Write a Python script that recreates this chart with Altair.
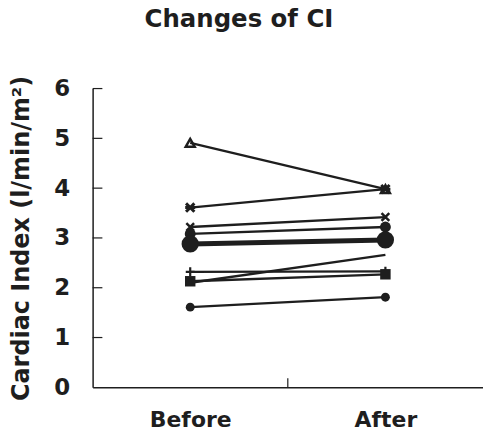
import altair as alt
import pandas as pd

# ---- data ----
patients = ["P1", "P2", "P3", "P4", "P5", "P6", "P7", "P8", "P9"]
ci_before = [4.91, 3.61, 3.22, 3.08, 2.88, 2.32, 2.13, 2.10, 1.61]
ci_after = [3.98, 3.98, 3.42, 3.22, 2.96, 2.33, 2.27, 2.66, 1.81]
phases = ["Before", "After"]
phase_pos = [1, 3]
y_ticks = [1, 2, 3, 4, 5, 6]
x_ticks = [2]

# ---- styles (per patient) ----
X_PATH = "M-1,-1L1,1M-1,1L1,-1"
PLUS_PATH = "M-1,0L1,0M0,-1L0,1"
AST_PATH = "M-1,-1L1,1M-1,1L1,-1M-1.2,0L1.2,0"
marker_style = {
    "P1": dict(shape="triangle-up", filled=False, size=80, sw=2.5),
    "P2": dict(shape=AST_PATH, filled=False, size=70, sw=3),
    "P3": dict(shape=X_PATH, filled=False, size=60, sw=2.5),
    "P4": dict(shape="circle", filled=True, size=120, sw=0),
    "P5": dict(shape="circle", filled=True, size=300, sw=0),
    "P6": dict(shape=PLUS_PATH, filled=False, size=80, sw=2.2),
    "P7": dict(shape="square", filled=True, size=110, sw=0),
    "P8": None,
    "P9": dict(shape="circle", filled=True, size=80, sw=0),
}
line_width = {p: 2.3 for p in patients}
line_width["P5"] = 5

rows = []
for p, b, a in zip(patients, ci_before, ci_after):
    for ph, pos, v in zip(phases, phase_pos, [b, a]):
        rows.append({"patient": p, "phase": ph, "pos": pos, "ci": v,
                     "lw": line_width[p]})
df = pd.DataFrame(rows)

INK = "#1e1e1e"
FONT = "DejaVu Sans"

x_scale = alt.Scale(domain=[0, 4])
y_scale = alt.Scale(domain=[0, 6])

x_enc = alt.X("pos:Q", scale=x_scale,
              axis=alt.Axis(values=phase_pos, title=None, grid=False, ticks=False,
                            labelExpr="datum.value == 1 ? 'Before' : datum.value == 3 ? 'After' : ''",
                            labelFont=FONT, labelFontSize=22, labelFontWeight="bold",
                            labelColor=INK, labelPadding=22,
                            domainColor=INK, domainWidth=1.5))
y_enc = alt.Y("ci:Q", scale=y_scale,
              axis=alt.Axis(values=[0] + y_ticks, title="Cardiac Index (l/min/m²)",
                            grid=False, ticks=False,
                            labelFont=FONT, labelFontSize=23, labelFontWeight="bold",
                            labelColor=INK, labelPadding=23,
                            titleFont=FONT, titleFontSize=24, titleFontWeight="bold",
                            titleColor=INK, titlePadding=20,
                            domainColor=INK, domainWidth=1.5))

base = alt.Chart(df)

lines = base.mark_line(color=INK).encode(
    x=x_enc, y=y_enc,
    detail="patient:N",
    strokeWidth=alt.StrokeWidth("lw:Q", scale=None, legend=None),
)

layers = [lines]
for p in patients:
    st = marker_style[p]
    if st is None:
        continue
    if st["filled"]:
        mk = base.mark_point(shape=st["shape"], size=st["size"], filled=True,
                             color=INK, opacity=1)
    else:
        mk = base.mark_point(shape=st["shape"], size=st["size"], filled=False,
                             color=INK, strokeWidth=st["sw"], opacity=1)
    layers.append(mk.encode(x="pos:Q", y="ci:Q").transform_filter(
        alt.datum.patient == p))

# inward ticks
ytick_df = pd.DataFrame({"v": y_ticks})
yt = alt.Chart(ytick_df).mark_rule(color=INK, strokeWidth=1.2).encode(
    y="v:Q", x=alt.datum(0), x2=alt.datum(0.1))
xtick_df = pd.DataFrame({"v": x_ticks})
xt = alt.Chart(xtick_df).mark_rule(color=INK, strokeWidth=1.2).encode(
    x="v:Q", y=alt.datum(0), y2=alt.datum(0.18))
layers += [yt, xt]

chart = alt.layer(*layers).properties(
    width=392, height=300,
    background="white",
    title=alt.TitleParams("Changes of CI", font=FONT, fontSize=24.5, fontWeight="bold",
                          color=INK, anchor="middle", frame="group", dx=-49,
                          offset=19, baseline="bottom"),
    padding={"left": 93, "top": 88, "right": 0, "bottom": 58},
    autosize=alt.AutoSizeParams(type="none"),
).configure_view(stroke="transparent", strokeWidth=0).configure_axis(grid=False)

chart.save("out.html", embed_options={"renderer": "svg", "actions": False})
